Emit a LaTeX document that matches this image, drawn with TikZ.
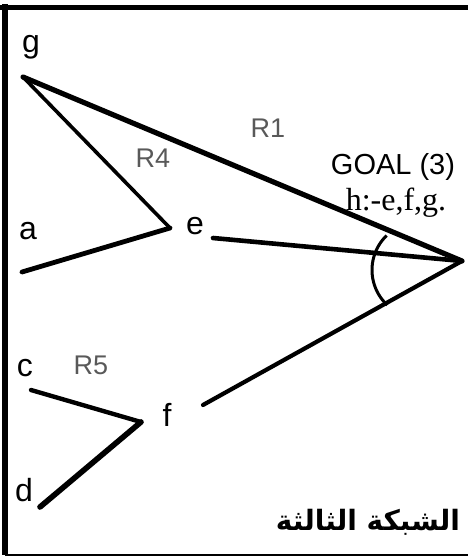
\documentclass[tikz,border=0pt]{standalone}
\usepackage{fontspec}
\setmainfont{Liberation Serif}
\setsansfont{Liberation Sans}
\newfontfamily\arabicfont[Script=Arabic]{DejaVu Sans}
\TeXXeTstate=1
\usetikzlibrary{positioning,calc}

\begin{document}
\begin{tikzpicture}[x=0.5pt, y=-0.5pt,
  lbl/.style={font=\sffamily\fontsize{16}{18}\selectfont, inner sep=0pt},
  rule/.style={font=\sffamily\fontsize{13.5}{15}\selectfont, text=black!65, inner sep=1pt},
  link/.style={line width=#1, line cap=round},
  link/.default=2pt
]
\useasboundingbox (0,0) rectangle (468,559);
% frame
\draw[line width=2.5pt] (0,7) -- (468,7);
\draw[line width=3pt] (5,4) -- (5,555);
\draw[line width=1pt] (5,555) -- (468,555);

% junction points
\coordinate (gp) at (23,77);
\coordinate (ep) at (170,228);
\coordinate (ap) at (22,272);
\coordinate (eq) at (213,238);
\coordinate (hp) at (462,261);
\coordinate (fq) at (203,405);
\coordinate (cp) at (31,390);
\coordinate (fp) at (141,422);
\coordinate (dp) at (40,507);
\coordinate (bend) at (420,270);

% labels
\node[lbl] (g) at (31,47) {g};
\node[lbl] (a) at (28,231) {a};
\node[lbl] (e) at (195,226) {e};
\node[lbl] (c) at (25,368) {c};
\node[lbl] (f) at (167,415) {f};
\node[lbl] (d) at (24,490) {d};
\node[font=\sffamily\fontsize{14.5}{16}\selectfont, inner sep=0pt] (goal) at (393,167) {GOAL (3)};
\node[font=\fontsize{16}{18}\selectfont, inner sep=0pt] (head) at (396,203) {h:-e,f,g.};
\node[rule] (r1) at (268,128) {R1};
\node[rule] (r4) at (153,158) {R4};
\node[rule] (r5) at (91,365) {R5};
\node[font=\arabicfont\bfseries\fontsize{14}{17}\selectfont, inner sep=0pt] (net) at (368,522) {\beginR الشبكة الثالثة\endR};

% links
\draw[link=2.6pt] (gp) -- (hp);
\draw[link=1.8pt] (gp) -- (ep);
\draw[link=2.4pt] (ap) -- (ep);
\draw[link=2.3pt] (eq) -- (hp);
\draw[link=2.1pt] (fq) -- (hp);
\draw[link=2.2pt] (cp) -- (fp);
\draw[link=2.8pt] (dp) -- (fp);
\draw[line width=1.5pt] ($(bend)+(226:48)$) arc[start angle=226, end angle=133, radius=48];
\end{tikzpicture}
\end{document}
